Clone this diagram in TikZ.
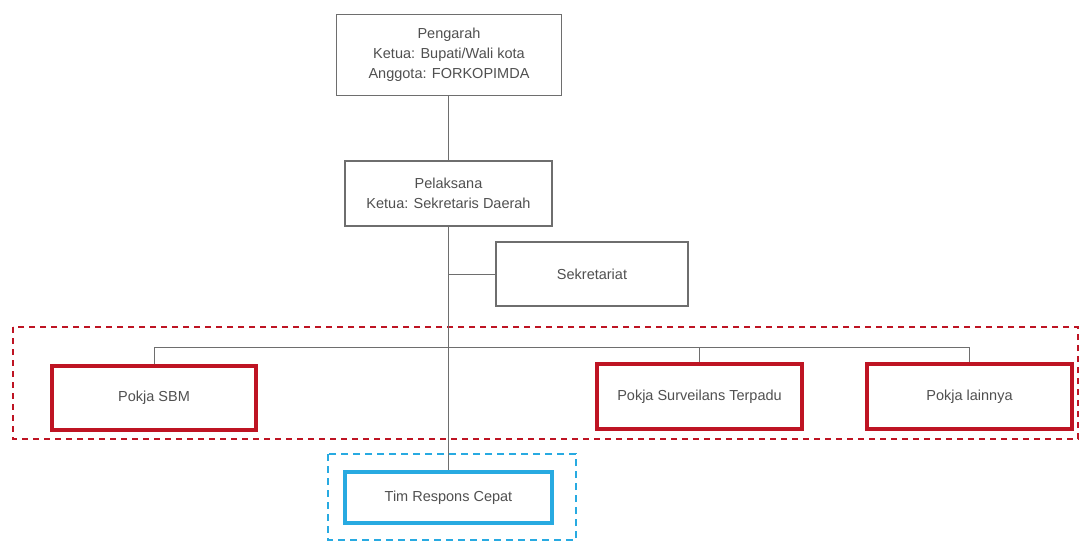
\documentclass[tikz,border=0pt]{standalone}
\usepackage{fontspec}
\setmainfont{Liberation Sans}
\definecolor{linegray}{RGB}{110,110,110}
\definecolor{txtgray}{RGB}{80,80,80}
\definecolor{pokjared}{RGB}{190,20,35}
\definecolor{trcblue}{RGB}{40,170,225}
\begin{document}
\begin{tikzpicture}[x=1pt,y=-1pt,
  every node/.style={font=\fontsize{14.5}{20}\selectfont, text=txtgray, align=center},
  graybox/.style={draw=linegray, line width=1.4pt, rectangle, inner sep=0pt},
  redbox/.style={draw=pokjared, line width=3.4pt, rectangle, inner sep=0pt},
  bluebox/.style={draw=trcblue, line width=3.2pt, rectangle, inner sep=0pt},
  link/.style={draw=linegray, line width=0.9pt},
  redframe/.style={draw=pokjared, line width=2.4pt, dash pattern=on 6pt off 5pt},
  blueframe/.style={draw=trcblue, line width=2.2pt, dash pattern=on 7pt off 5pt}]
\useasboundingbox (0,0) rectangle (1080,546);
\fill[white] (0,0) rectangle (1080,546);

% dashed groupings
\draw[redframe] (13,327) rectangle (1078,439);
\draw[blueframe] (328,454) rectangle (576,540);

% boxes
\node[graybox, minimum width=225pt, minimum height=81pt] (pengarah) at (449,55)
  {Pengarah\\Ketua: Bupati/Wali kota\\Anggota: FORKOPIMDA};
\node[graybox, minimum width=207pt, minimum height=65pt] (pelaksana) at (448.5,193.5)
  {Pelaksana\\Ketua: Sekretaris Daerah};
\node[graybox, minimum width=192pt, minimum height=64pt] (sekretariat) at (592,274)
  {Sekretariat};
\node[redbox, minimum width=204pt, minimum height=64pt] (sbm) at (154,398)
  {Pokja SBM};
\node[redbox, minimum width=205pt, minimum height=65pt] (surv) at (699.5,396.5)
  {Pokja Surveilans Terpadu};
\node[redbox, minimum width=205pt, minimum height=65pt] (lain) at (969.5,396.5)
  {Pokja lainnya};
\node[bluebox, minimum width=207pt, minimum height=51pt] (trc) at (448.5,497.5)
  {Tim Respons Cepat};

\coordinate (bus) at (0,347);

% connectors
\draw[link] (pengarah.south -| pelaksana.south) -- (pelaksana.north);
\draw[link] (pelaksana.south) -- (trc.north);
\draw[link] (sekretariat.west) -- (sekretariat.west -| pelaksana.south);
\draw[link] (sbm.north) |- (lain.north |- bus) -- (lain.north);
\draw[link] (surv.north) -- (surv.north |- bus);
\end{tikzpicture}
\end{document}
